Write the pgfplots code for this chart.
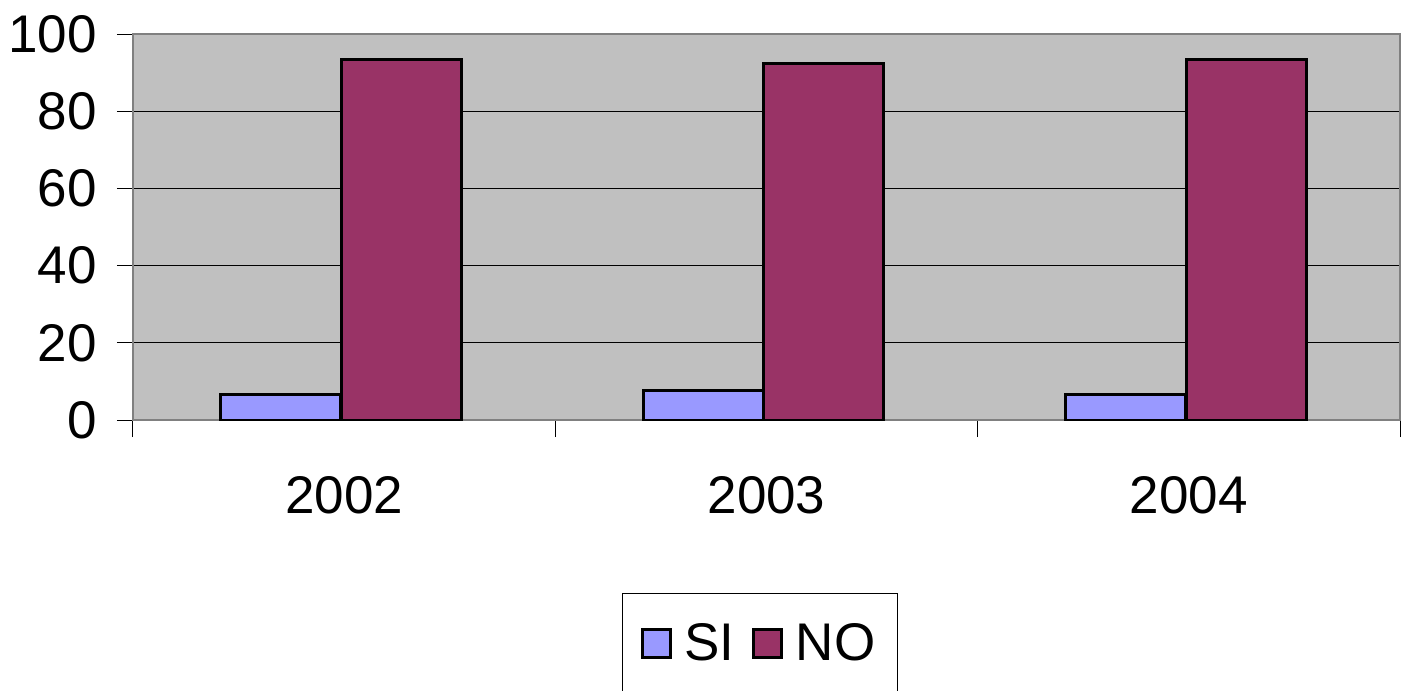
\documentclass[border=0pt]{standalone}
\usepackage{fontspec}
\setmainfont{Liberation Sans}
\usepackage{pgfplots}
\pgfplotsset{compat=1.18}
\definecolor{siC}{HTML}{9999FF}
\definecolor{noC}{HTML}{993366}
\definecolor{bgC}{HTML}{C0C0C0}
\definecolor{frC}{HTML}{808080}
\begin{document}
\begin{tikzpicture}
\begin{axis}[
  at={(0,0)}, anchor=south west,
  scale only axis,
  width=633.5pt, height=193pt,
  xmin=-0.5, xmax=2.5,
  ymin=0, ymax=100,
  ytick={0,20,40,60,80,100},
  xtick={0,1,2},
  xticklabels={2002,2003,2004},
  minor xtick={-0.5,0.5,1.5,2.5},
  major x tick style={draw=none},
  minor tick length=8.5pt,
  major tick length=8pt,
  tick align=outside,
  tick style={black, line width=0.5pt},
  xtick pos=bottom, ytick pos=left,
  ymajorgrids,
  grid style={black, line width=0.5pt},
  axis line style={frC, line width=1pt},
  axis background/.style={fill=bgC},
  /pgf/number format/assume math mode=true,
  tick label style={font=\fontsize{26.5}{30}\selectfont},
  yticklabel style={inner sep=0pt, anchor=east, xshift=-10pt},
  xticklabel style={inner sep=0pt, anchor=north, yshift=-20pt},
  ybar,
  bar width=0.284,
  legend columns=2,
  legend style={at={(0.495,-0.448)}, anchor=north, draw=black, line width=0.5pt,
    font=\fontsize{26.5}{30}\selectfont, inner xsep=9pt, inner ysep=13pt,
    /tikz/every even column/.append style={column sep=7pt}},
  legend image code/.code={\draw[#1, line width=1.5pt] (0pt,-7pt) rectangle (14pt,7pt); \path[draw=none,fill=none] (0pt,0pt) -- (19pt,0pt);},
]
\addplot[fill=siC, draw=black, line width=1.5pt, bar shift=-0.150] coordinates {(0,6.5) (1,7.7) (2,6.5)};
\addplot[fill=noC, draw=black, line width=1.5pt, bar shift=0.136] coordinates {(0,93.5) (1,92.3) (2,93.5)};
\legend{SI,NO}
\end{axis}
\pgfresetboundingbox
\path (-66.5pt,-135.5pt) rectangle (635.5pt,210pt);
\end{tikzpicture}
\end{document}
